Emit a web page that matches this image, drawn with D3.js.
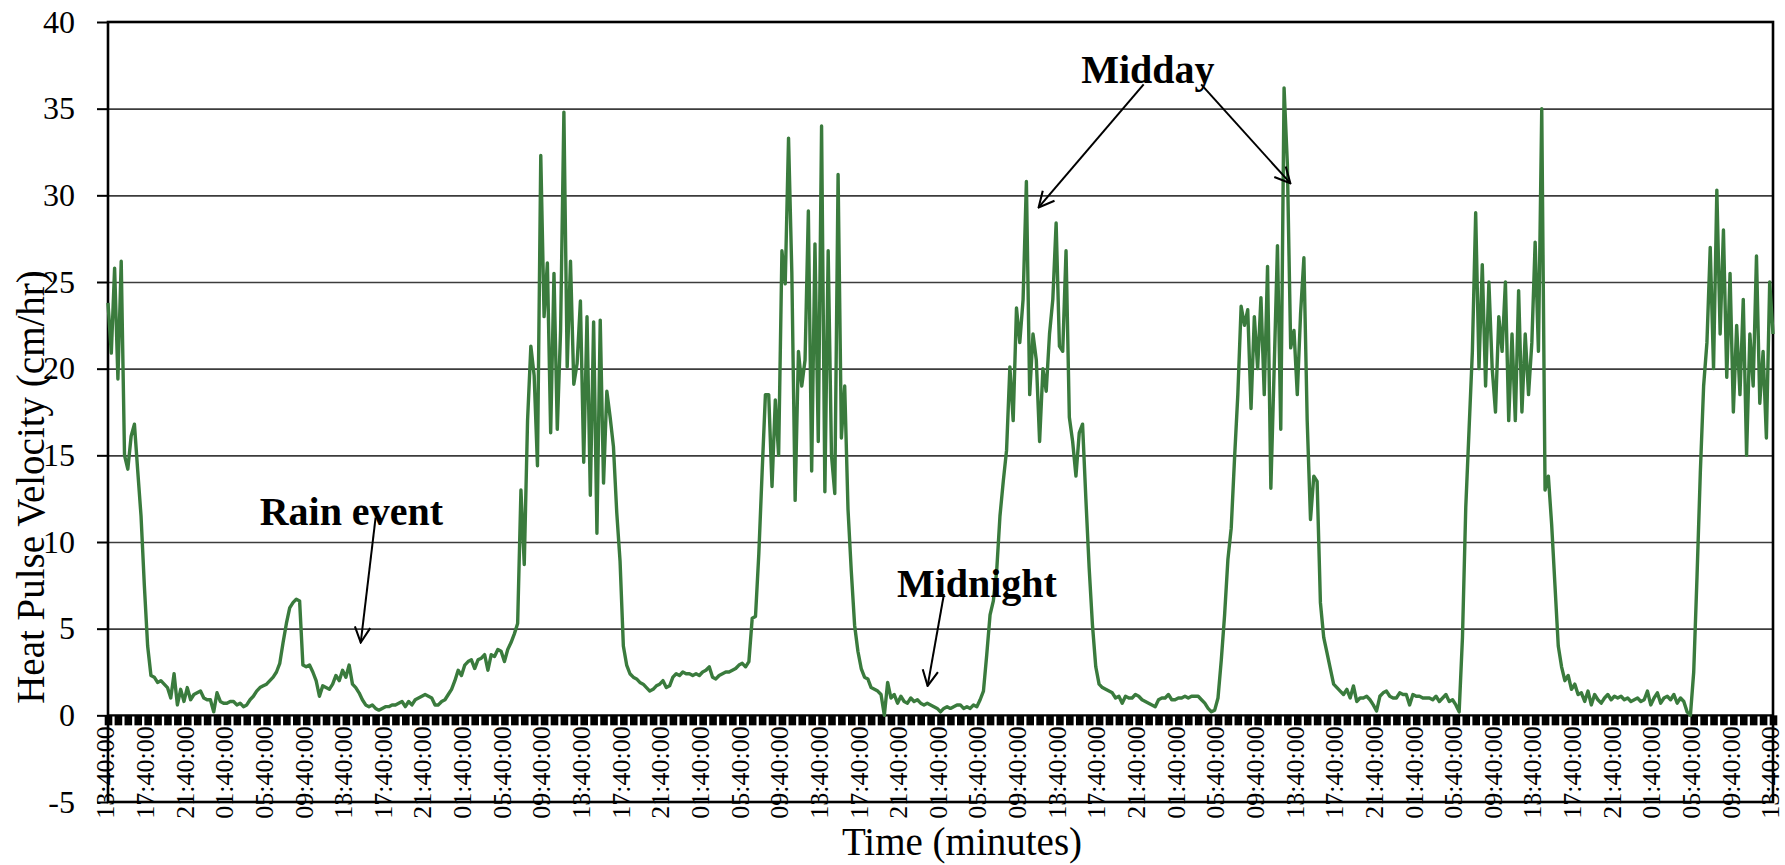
<!DOCTYPE html>
<html>
<head>
<meta charset="utf-8">
<script src="https://cdn.jsdelivr.net/npm/d3@7"></script>
<style>
  html, body { margin: 0; padding: 0; background: #fff; }
  svg { display: block; }
  text { font-family: "Liberation Serif", "Times New Roman", serif; fill: #000; }
</style>
</head>
<body>
<svg id="chart" width="1785" height="865"></svg>
<script>
// ---- DATA ----
// Heat pulse velocity (cm/hr), one reading every 20 minutes, starting 13:40:00
const sampleStepHours = 1 / 3;
const velocity = [
  23.8, 20.9, 25.8, 19.4, 26.2, 15.0, 14.2, 16.1, 16.8, 14.1,
  11.5, 7.5, 4.0, 2.3, 2.2, 1.9, 2.0, 1.8, 1.6, 1.0,
  2.4, 0.6, 1.5, 0.8, 1.6, 0.9, 1.2, 1.3, 1.4, 1.0,
  0.9, 0.9, 0.2, 1.3, 0.8, 0.7, 0.7, 0.8, 0.8, 0.6,
  0.7, 0.5, 0.6, 0.9, 1.1, 1.4, 1.6, 1.7, 1.8, 2.0,
  2.2, 2.5, 3.0, 4.2, 5.3, 6.2, 6.5, 6.7, 6.6, 2.9,
  2.8, 2.9, 2.5, 2.0, 1.1, 1.7, 1.6, 1.5, 1.8, 2.3,
  2.0, 2.6, 2.2, 2.9, 1.8, 1.6, 1.3, 0.9, 0.6, 0.5,
  0.6, 0.4, 0.3, 0.4, 0.5, 0.5, 0.6, 0.6, 0.7, 0.8,
  0.5, 0.8, 0.6, 0.9, 1.0, 1.1, 1.2, 1.1, 1.0, 0.6,
  0.6, 0.8, 0.9, 1.2, 1.5, 2.0, 2.6, 2.3, 2.9, 3.1,
  3.2, 2.7, 3.2, 3.3, 3.5, 2.6, 3.5, 3.4, 3.8, 3.7,
  3.1, 3.8, 4.2, 4.7, 5.3, 13.0, 8.7, 17.0, 21.3, 19.6,
  14.4, 32.3, 23.0, 26.1, 16.3, 25.5, 16.5, 22.2, 34.8, 20.1,
  26.2, 19.1, 20.3, 23.9, 14.6, 23.0, 12.7, 22.7, 10.5, 22.8,
  13.4, 18.7, 17.2, 15.5, 11.7, 8.9, 4.0, 2.9, 2.4, 2.2,
  2.1, 1.9, 1.8, 1.6, 1.4, 1.5, 1.7, 1.8, 2.0, 1.6,
  1.7, 2.2, 2.4, 2.3, 2.5, 2.4, 2.4, 2.3, 2.4, 2.3,
  2.5, 2.6, 2.8, 2.2, 2.1, 2.3, 2.4, 2.5, 2.5, 2.6,
  2.7, 2.9, 3.0, 2.8, 3.1, 5.6, 5.7, 9.3, 14.0, 18.5,
  18.5, 13.2, 18.2, 15.0, 26.8, 24.9, 33.3, 25.5, 12.4, 21.0,
  19.0, 20.5, 29.1, 14.1, 27.2, 15.8, 34.0, 12.9, 26.8, 15.0,
  12.8, 31.2, 16.0, 19.0, 11.9, 8.3, 5.2, 3.7, 2.7, 2.2,
  2.1, 1.6, 1.5, 1.4, 1.2, 0.0, 1.9, 1.0, 1.2, 0.7,
  1.1, 0.8, 0.7, 1.0, 0.8, 0.9, 0.7, 0.6, 0.7, 0.6,
  0.5, 0.4, 0.2, 0.4, 0.5, 0.4, 0.5, 0.6, 0.6, 0.4,
  0.5, 0.4, 0.6, 0.5, 0.9, 1.4, 3.5, 5.8, 6.6, 8.3,
  11.5, 13.5, 15.3, 20.1, 17.0, 23.5, 21.5, 24.0, 30.8, 18.5,
  22.0, 20.5, 15.8, 20.0, 18.7, 22.0, 24.0, 28.4, 21.3, 21.0,
  26.8, 17.2, 15.8, 13.8, 16.3, 16.8, 12.5, 8.5, 5.2, 2.8,
  1.8, 1.6, 1.5, 1.4, 1.3, 1.0, 1.1, 0.7, 1.1, 1.0,
  1.0, 1.2, 1.1, 0.9, 0.8, 0.7, 0.6, 0.5, 0.9, 1.0,
  1.0, 1.2, 0.9, 0.9, 1.0, 1.0, 1.1, 1.0, 1.1, 1.1,
  1.1, 0.9, 0.7, 0.4, 0.2, 0.3, 1.0, 3.2, 5.8, 9.0,
  10.8, 14.8, 18.5, 23.6, 22.5, 23.4, 17.7, 23.0, 20.0, 24.1,
  18.5, 25.9, 13.1, 20.0, 27.1, 16.5, 36.2, 31.8, 21.2, 22.2,
  18.5, 23.2, 26.4, 17.0, 11.3, 13.8, 13.5, 6.5, 4.5, 3.6,
  2.7, 1.8, 1.6, 1.4, 1.2, 1.5, 1.0, 1.7, 0.8, 1.0,
  1.0, 1.1, 0.9, 0.6, 0.25, 1.1, 1.3, 1.4, 1.1, 1.0,
  1.0, 1.3, 1.2, 1.2, 0.6, 1.2, 1.1, 1.1, 1.0, 1.0,
  1.0, 0.9, 1.1, 0.8, 1.0, 1.2, 0.8, 0.9, 0.6, 0.2,
  4.5, 12.0, 16.5, 21.0, 29.0, 20.0, 26.0, 19.0, 25.0, 20.0,
  17.5, 23.0, 21.0, 25.0, 17.0, 22.0, 17.0, 24.5, 17.5, 22.0,
  18.5, 21.5, 27.3, 21.0, 35.0, 13.0, 13.8, 11.0, 7.5, 4.0,
  2.8, 2.0, 2.3, 1.5, 1.8, 1.2, 1.3, 0.8, 1.4, 0.6,
  1.2, 0.9, 0.7, 1.0, 1.2, 0.9, 1.1, 1.0, 1.1, 0.9,
  1.0, 0.8, 0.9, 1.0, 0.8, 0.9, 1.4, 0.6, 1.0, 1.3,
  0.7, 1.0, 1.1, 0.9, 1.2, 0.7, 1.0, 0.8, 0.2, 0.0,
  2.5, 8.0, 14.0, 19.0, 21.5, 27.0, 20.0, 30.3, 22.0, 28.0,
  19.5, 25.5, 17.5, 22.5, 18.5, 24.0, 15.0, 22.0, 19.0, 26.5,
  18.0, 21.0, 16.0, 25.0, 22.0
];

const yTicks = [-5, 0, 5, 10, 15, 20, 25, 30, 35, 40];
const xTickLabels = [
  "13:40:00", "17:40:00", "21:40:00", "01:40:00", "05:40:00", "09:40:00",
  "13:40:00", "17:40:00", "21:40:00", "01:40:00", "05:40:00", "09:40:00",
  "13:40:00", "17:40:00", "21:40:00", "01:40:00", "05:40:00", "09:40:00",
  "13:40:00", "17:40:00", "21:40:00", "01:40:00", "05:40:00", "09:40:00",
  "13:40:00", "17:40:00", "21:40:00", "01:40:00", "05:40:00", "09:40:00",
  "13:40:00", "17:40:00", "21:40:00", "01:40:00", "05:40:00", "09:40:00",
  "13:40:00", "17:40:00", "21:40:00", "01:40:00", "05:40:00", "09:40:00",
  "13:40:00"
];
const xLabelStepHours = 4;
const totalHours = 168;

const yTitle = "Heat Pulse Velocity (cm/hr)";
const xTitle = "Time (minutes)";

// annotations in data coordinates (hours from start, cm/hr)
const annotationLabels = ["Rain event", "Midnight", "Midday"];
const annotationAnchors = [[15.3, 11.0], [79.6, 6.8], [98.2, 36.5]];
const arrowFrom = [[27.0, 11.4], [84.35, 7.0], [104.5, 36.4], [110.3, 36.4]];
const arrowTo = [[25.5, 4.2], [82.7, 1.7], [93.9, 29.3], [119.3, 30.7]];

// ---- LAYOUT ----
const plotLeft = 108, plotRight = 1773, plotTop = 22, plotBottom = 802;
const green = "#3a7b3d";
const svg = d3.select("#chart");

const x = d3.scaleLinear().domain([0, totalHours]).range([plotLeft, plotRight]);
const y = d3.scaleLinear().domain([-5, 40]).range([plotBottom, plotTop]);

// y axis ticks + labels (hyphen-minus like the original)
const yAxis = d3.axisLeft(y).tickValues(yTicks).tickSize(11).tickPadding(22).tickFormat(d => String(d));
const gy = svg.append("g").attr("transform", `translate(${plotLeft},0)`).call(yAxis);
gy.select(".domain").remove();
gy.selectAll(".tick line").attr("stroke", "#000").attr("stroke-width", 2);
gy.selectAll(".tick text").attr("font-size", 32).attr("font-family", "Liberation Serif, serif");

// gridlines
const grid = d3.axisLeft(y).tickValues(yTicks.filter(v => v > 0 && v < 40)).tickSize(-(plotRight - plotLeft)).tickFormat("");
const gg = svg.append("g").attr("transform", `translate(${plotLeft},0)`).call(grid);
gg.select(".domain").remove();
gg.selectAll(".tick line").attr("stroke", "#3c3c3c").attr("stroke-width", 1.6);

// dense hourly tick band along the zero line
const hourTicks = d3.range(0, totalHours + 1, 1);
const band = d3.axisBottom(x).tickValues(hourTicks).tickSize(10).tickFormat("");
const gb = svg.append("g").attr("transform", `translate(0,${y(0)})`).call(band);
gb.select(".domain").remove();
gb.selectAll(".tick line").attr("stroke", "#000").attr("stroke-width", 7.6);

// x labels (rotated)
const labelHours = xTickLabels.map((d, i) => i * xLabelStepHours);
const xAxis = d3.axisBottom(x).tickValues(labelHours).tickSize(0)
  .tickFormat((d, i) => xTickLabels[i]);
const gx = svg.append("g").attr("transform", `translate(0,${y(0)})`).call(xAxis);
gx.select(".domain").remove();
gx.selectAll(".tick text")
  .attr("font-size", 26)
  .attr("font-family", "Liberation Serif, serif")
  .attr("transform", "rotate(-90)")
  .attr("text-anchor", "end")
  .attr("x", -11)
  .attr("y", -2)
  .attr("dy", "0.3em");

// zero axis line
svg.append("line").attr("x1", plotLeft).attr("x2", plotRight).attr("y1", y(0)).attr("y2", y(0))
  .attr("stroke", "#000").attr("stroke-width", 2.2);

// plot border
svg.append("rect").attr("x", plotLeft).attr("y", plotTop).attr("width", plotRight - plotLeft).attr("height", plotBottom - plotTop)
  .attr("fill", "none").attr("stroke", "#000").attr("stroke-width", 2.6);

// data line
const line = d3.line().x((d, i) => x(i * sampleStepHours)).y(d => y(d)).curve(d3.curveLinear);
svg.append("path").datum(velocity).attr("d", line)
  .attr("fill", "none").attr("stroke", green).attr("stroke-width", 3.4).attr("stroke-linejoin", "round");

// axis titles
svg.append("text").attr("transform", `translate(44,487) rotate(-90)`)
  .attr("text-anchor", "middle").attr("font-size", 39).text(yTitle);
svg.append("text").attr("x", 962).attr("y", 855).attr("text-anchor", "middle")
  .attr("font-size", 39).text(xTitle);

// annotations
svg.append("defs").append("marker").attr("id", "arrowOpen")
  .attr("viewBox", "0 0 14 14").attr("refX", 13).attr("refY", 7)
  .attr("markerWidth", 18).attr("markerHeight", 18).attr("markerUnits", "userSpaceOnUse")
  .attr("orient", "auto")
  .append("path").attr("d", "M1,1 L13,7 L1,13").attr("fill", "none").attr("stroke", "#000").attr("stroke-width", 1.6);

annotationLabels.forEach((t, i) => {
  svg.append("text").attr("x", x(annotationAnchors[i][0])).attr("y", y(annotationAnchors[i][1]))
    .attr("font-size", 40).attr("font-weight", "bold").text(t);
});
arrowFrom.forEach((p, i) => {
  svg.append("line").attr("x1", x(p[0])).attr("y1", y(p[1]))
    .attr("x2", x(arrowTo[i][0])).attr("y2", y(arrowTo[i][1]))
    .attr("stroke", "#000").attr("stroke-width", 2).attr("marker-end", "url(#arrowOpen)");
});
</script>
</body>
</html>
